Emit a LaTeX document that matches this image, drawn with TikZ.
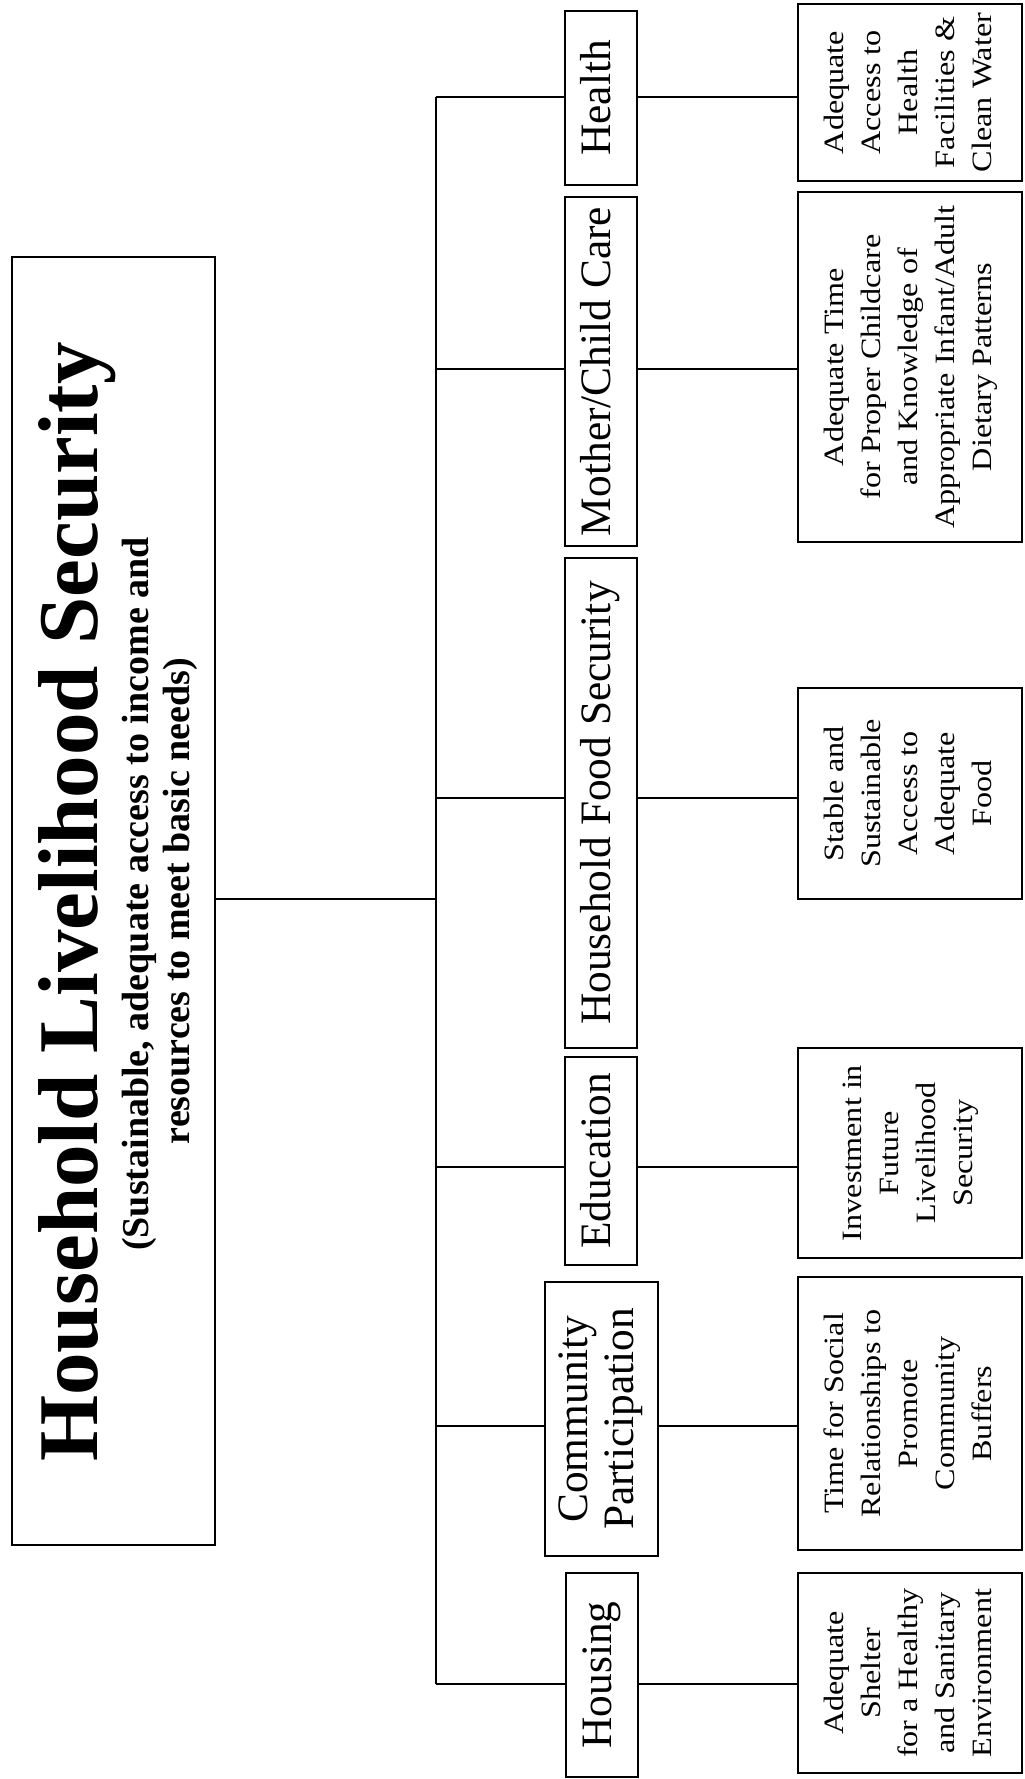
\documentclass[tikz,border=0pt]{standalone}
\usepackage{fontspec}
\setmainfont{Liberation Serif}
\usepackage{graphicx}
\newcommand{\vtext}[1]{\rotatebox{90}{\begin{tabular}{@{}c@{}}#1\end{tabular}}}
\newcommand{\vleaf}[1]{\rotatebox{90}{\scalebox{1.15}[1]{\begin{tabular}{@{}c@{}}#1\end{tabular}}}}
\begin{document}
\begin{tikzpicture}[x=0.5pt,y=-0.5pt,
  box/.style={draw, line width=1pt, inner sep=0pt, outer sep=0pt},
  lvl/.style={box, minimum width=36pt, font=\fontsize{21.7}{23}\selectfont},
  leaf/.style={box, minimum width=112pt, font=\fontsize{14}{18.5}\selectfont},
  conn/.style={line width=1pt}]
\useasboundingbox (0,0) rectangle (1024,1779);

% main box
\node[box, minimum width=101.5pt, minimum height=644pt] (main) at (113.5,901) {};
\node[rotate=90, anchor=base, inner sep=0pt, font=\bfseries\fontsize{42.5}{44}\selectfont] (title) at (97,902) {Household Livelihood Security};
\node[rotate=90, anchor=base, inner sep=0pt, font=\bfseries\fontsize{19}{21}\selectfont] (sub1) at (148,894) {(Sustainable, adequate access to income and};
\node[rotate=90, anchor=base, inner sep=0pt, font=\bfseries\fontsize{19}{21}\selectfont] (sub2) at (189,901) {resources to meet basic needs)};

% level 1
\node[lvl, minimum height=87pt]    (L1) at (601,98)    {\vtext{Health}};
\node[lvl, minimum height=174.5pt] (L2) at (601,371.5) {\vtext{Mother/Child Care}};
\node[lvl, minimum height=245pt]   (L3) at (601,803)   {\vtext{Household Food Security}};
\node[lvl, minimum height=104pt]   (L4) at (601,1161)  {\vtext{Education}};
\node[lvl, minimum width=56.5pt, minimum height=137pt] (L5) at (601.5,1419) {\vtext{Community\\Participation}};
\node[lvl, minimum height=102pt]   (L6) at (602,1675)  {\vtext{Housing}};

% leaves
\node[leaf, minimum height=88.5pt]  (R1) at (910,92.5)  {\vleaf{Adequate\\Access to\\Health\\Facilities \&\\Clean Water}};
\node[leaf, minimum height=175pt]   (R2) at (910,367)   {\vleaf{Adequate Time\\for Proper Childcare\\and Knowledge of\\Appropriate Infant/Adult\\Dietary Patterns}};
\node[leaf, minimum height=105.5pt] (R3) at (910,793.5) {\vleaf{Stable and\\Sustainable\\Access to\\Adequate\\Food}};
\node[leaf, minimum height=105pt]   (R4) at (910,1153)  {\vleaf{Investment in\\Future\\Livelihood\\Security}};
\node[leaf, minimum height=136.5pt] (R5) at (910,1413.5){\vleaf{Time for Social\\Relationships to\\Promote\\Community\\Buffers}};
\node[leaf, minimum height=100pt]   (R6) at (910,1673)  {\vleaf{Adequate\\Shelter\\for a Healthy\\and Sanitary\\Environment}};

% trunk
\coordinate (jmain) at (436,899);
\coordinate (j1) at (436,97);
\coordinate (j2) at (436,369);
\coordinate (j3) at (436,798);
\coordinate (j4) at (436,1167);
\coordinate (j5) at (436,1426);
\coordinate (j6) at (436,1684);

\draw[conn] (main.east |- jmain) -- (jmain);
\draw[conn] (j1) -- (j6);
\foreach \k in {1,...,6}{
  \draw[conn] (j\k) -- (j\k -| L\k.west);
  \draw[conn] (L\k.east |- j\k) -- (j\k -| R\k.west);
}
\end{tikzpicture}
\end{document}
